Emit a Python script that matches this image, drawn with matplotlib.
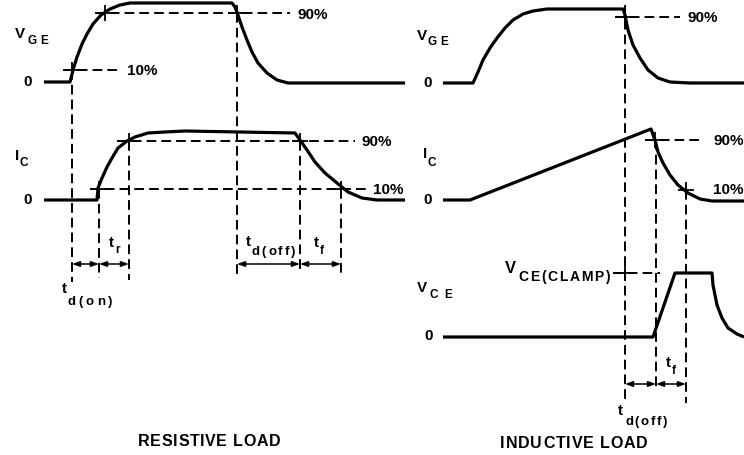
import matplotlib
matplotlib.use("Agg")
import matplotlib.pyplot as plt

plt.rcParams['font.family'] = ['Liberation Sans', 'DejaVu Sans']
plt.rcParams['font.weight'] = 'bold'

# ---------------- waveform data (pixel units) ----------------
# Resistive load, V_GE
lv_x = [44, 70, 73, 77, 82, 87, 93, 101, 110, 120, 130, 232, 235, 238, 242, 247, 252, 258, 267, 277, 288, 405]
lv_y = [82, 82, 70, 57, 44, 34, 24, 15, 9, 5, 3, 3, 7, 15, 27, 40, 52, 63, 73, 80, 83, 83]
# Resistive load, I_C
li_x = [44, 97, 98, 102, 107, 112, 118, 127, 135, 148, 165, 185, 295, 300, 307, 315, 325, 337, 348, 362, 377, 405]
li_y = [200, 200, 188, 178, 167, 158, 148, 141, 137, 133, 132, 131, 133, 140, 150, 162, 173, 183, 192, 198, 200, 200]
# Inductive load, V_GE
rv_x = [443, 473, 478, 483, 490, 497, 505, 513, 523, 533, 547, 623, 625, 628, 633, 640, 648, 658, 670, 690, 744]
rv_y = [83, 83, 72, 60, 48, 38, 28, 20, 14, 11, 9, 9, 15, 30, 45, 58, 70, 78, 82, 83, 83]
# Inductive load, I_C
ri_x = [443, 470, 651, 655, 658, 663, 670, 678, 688, 700, 712, 744]
ri_y = [200, 200, 129, 140, 152, 163, 175, 185, 193, 199, 201, 201]
# Inductive load, V_CE
rc_x = [443, 653, 675, 712, 713, 717, 722, 728, 737, 744]
rc_y = [337, 337, 273, 273, 285, 305, 318, 328, 334, 337]

# threshold levels (10% / 90% / clamp)
left_vge_90, left_vge_10 = 13, 70
left_ic_90, left_ic_10 = 141, 189
right_vge_90 = 17
right_ic_90, right_ic_10 = 140, 190
right_clamp = 273

# timing instants (vertical dashed lines)
left_t = [72, 99, 129, 237, 300, 341]
right_t = [625, 656, 686]

# ---------------- drawing ----------------
fig = plt.figure(figsize=(7.44, 4.55), dpi=100)
ax = fig.add_axes([0, 0, 1, 1])
ax.set_xlim(0, 744)
ax.set_ylim(455, 0)
ax.axis('off')
renderer = fig.canvas.get_renderer()

WLW = 2.3
for xs, ys in [(lv_x, lv_y), (li_x, li_y), (rv_x, rv_y), (ri_x, ri_y), (rc_x, rc_y)]:
    ax.plot(xs, ys, color='black', lw=WLW, solid_joinstyle='round', solid_capstyle='butt')

DLS = (0, (5, 2.6))
DLW = 1.4

def hdash(x0, x1, y):
    ax.plot([x0, x1], [y, y], color='black', lw=DLW, linestyle=DLS)

def vdash(x, y0, y1):
    ax.plot([x, x], [y0, y1], color='black', lw=DLW, linestyle=DLS)

# horizontal reference lines
hdash(95, 290, left_vge_90)
hdash(63, 120, left_vge_10)
hdash(117, 355, left_ic_90)
hdash(90, 368, left_ic_10)
hdash(615, 680, right_vge_90)
hdash(645, 703, right_ic_90)
hdash(613, 660, right_clamp)

# vertical reference lines
vdash(left_t[0], left_vge_10, 282)
vdash(left_t[1], left_ic_10, 278)
vdash(left_t[2], left_ic_90, 280)
vdash(left_t[3], left_vge_90, 275)
vdash(left_t[4], left_ic_90, 272)
vdash(left_t[5], left_ic_10, 276)
vdash(right_t[0], 5, 402)
vdash(right_t[1], right_ic_90, 390)
vdash(right_t[2], right_ic_10, 403)

# crossing ticks
cross_pts = [(left_t[0], left_vge_10), (105, left_vge_90), (left_t[3], left_vge_90),
             (left_t[1], left_ic_10), (left_t[2], left_ic_90), (left_t[4], left_ic_90),
             (left_t[5], left_ic_10), (right_t[0], right_vge_90), (655, right_ic_90),
             (right_t[2], right_ic_10), (right_t[0], right_clamp)]
for cx, cy in cross_pts:
    ax.plot([cx], [cy], marker='+', markersize=12, mew=1.3, color='black')

# dimension arrows
def dim(x0, x1, y):
    ax.annotate('', xy=(x0, y), xytext=(x1, y),
                arrowprops=dict(arrowstyle='<|-|>,head_length=0.45,head_width=0.16',
                                color='black', lw=1.1, shrinkA=0, shrinkB=0))

for a, b in [(left_t[0], left_t[1]), (left_t[1], left_t[2]), (left_t[3], left_t[4]), (left_t[4], left_t[5])]:
    dim(a, b, 264)
for a, b in [(right_t[0], right_t[1]), (right_t[1], right_t[2])]:
    dim(a, b, 384)

# texts
FS = 11
SFS = 8.5

def txt(x, y, s, fs=FS, ha='left', va='baseline'):
    return ax.text(x, y, s, fontsize=fs, ha=ha, va=va, color='black', fontweight='bold')

def spread(x0, x1, y, s, fs=SFS, va='baseline'):
    """Draw text letter-spaced so it runs from x0 to x1."""
    widths = []
    for ch in s:
        if ch == ' ':
            widths.append(fs * 0.28 * 100 / 72)
            continue
        t = txt(0, 0, ch, fs)
        widths.append(t.get_window_extent(renderer).width)
        t.remove()
    n = len(s)
    track = (x1 - x0 - sum(widths)) / (n - 1) if n > 1 else 0
    cx = x0
    for ch, w in zip(s, widths):
        if ch != ' ':
            txt(cx, y, ch, fs, va=va)
        cx += w + track

# left panel
txt(15, 38, 'V')
spread(27, 48, 44, 'GE')
txt(28, 82, '0', ha='center', va='center')
txt(15, 160, 'I')
txt(19, 166, 'C', SFS)
txt(28, 200, '0', ha='center', va='center')
txt(298, 15, '90%', va='center')
txt(127, 71, '10%', va='center')
txt(362, 142, '90%', va='center')
txt(373, 190, '10%', va='center')
txt(109, 247, 't')
txt(115, 253, 'r', SFS)
txt(62, 293, 't')
spread(68, 112, 305, 'd(on)', fs=9.5)
txt(246, 246, 't')
spread(252, 295, 255, 'd(off)', fs=9.5)
txt(314, 247, 't')
txt(320, 254, 'f', SFS)
spread(138, 280, 446, 'RESISTIVE LOAD', fs=11.5)

# right panel
txt(417, 40, 'V')
spread(428, 448, 45, 'GE')
txt(428, 83, '0', ha='center', va='center')
txt(423, 158, 'I')
txt(427, 166, 'C', SFS)
txt(428, 200, '0', ha='center', va='center')
txt(687, 18, '90%', va='center')
txt(713, 141, '90%', va='center')
txt(713, 190, '10%', va='center')
txt(417, 292, 'V')
spread(429, 452, 298, 'CE')
txt(429, 336, '0', ha='center', va='center')
txt(505, 273, 'V', 12)
spread(518, 610, 281, 'CE(CLAMP)', fs=10)
txt(666, 367, 't')
txt(672, 374, 'f', SFS)
txt(618, 415, 't')
spread(625, 667, 425, 'd(off)', fs=9.5)
spread(500, 648, 448, 'INDUCTIVE LOAD', fs=11.5)

fig.savefig('out.png', dpi=100)
